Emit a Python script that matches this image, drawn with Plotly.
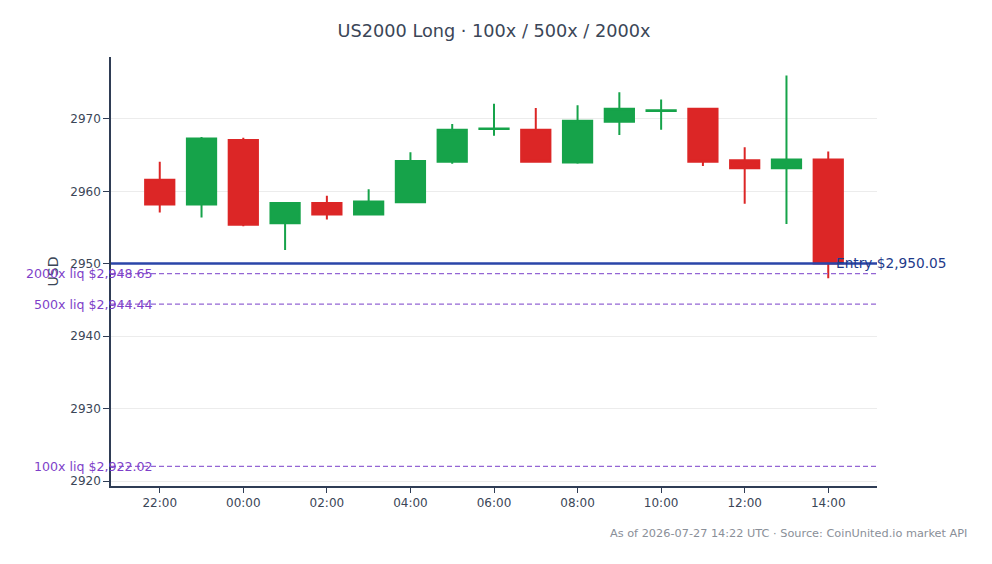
import plotly.graph_objects as go

times = ["2026-07-26 22:00", "2026-07-26 23:00", "2026-07-27 00:00", "2026-07-27 01:00",
         "2026-07-27 02:00", "2026-07-27 03:00", "2026-07-27 04:00", "2026-07-27 05:00",
         "2026-07-27 06:00", "2026-07-27 07:00", "2026-07-27 08:00", "2026-07-27 09:00",
         "2026-07-27 10:00", "2026-07-27 11:00", "2026-07-27 12:00", "2026-07-27 13:00",
         "2026-07-27 14:00"]
opens  = [2961.6, 2958.2, 2967.1, 2955.6, 2958.4, 2956.8, 2958.5, 2964.1, 2968.6,
          2968.5, 2964.0, 2969.6, 2971.1, 2971.4, 2964.3, 2963.2, 2964.4]
highs  = [2964.1, 2967.5, 2967.4, 2958.4, 2959.4, 2960.3, 2965.4, 2969.3, 2972.1,
          2971.5, 2971.9, 2973.7, 2972.7, 2971.4, 2966.1, 2976.0, 2965.5]
lows   = [2957.1, 2956.4, 2955.2, 2951.9, 2956.1, 2956.7, 2958.5, 2963.8, 2967.7,
          2964.0, 2963.8, 2967.8, 2968.5, 2963.5, 2958.3, 2955.5, 2948.0]
closes = [2958.2, 2967.3, 2955.4, 2958.4, 2956.8, 2958.6, 2964.2, 2968.5, 2968.7,
          2964.1, 2969.75, 2971.4, 2971.2, 2964.1, 2963.2, 2964.4, 2950.05]

entry_price = 2950.05
liq_labels = ["2000x", "500x", "100x"]
liq_prices = [2948.65, 2944.44, 2922.02]

title_text = "US2000 Long · 100x / 500x / 2000x"
footer_text = "As of 2026-07-27 14:22 UTC · Source: CoinUnited.io market API"

FONT = "DejaVu Sans, sans-serif"
GREEN = "#16a34a"
RED = "#dc2626"
AXIS = "#2f3d55"
PURPLE = "#7e3fc9"
BLUE = "#1e3a8a"
TEXT = "#3b4657"

fig = go.Figure()
fig.add_trace(go.Candlestick(
    x=times, open=opens, high=highs, low=lows, close=closes,
    increasing=dict(line=dict(color=GREEN, width=2), fillcolor=GREEN),
    decreasing=dict(line=dict(color=RED, width=2), fillcolor=RED),
    showlegend=False,
))

# Entry line
fig.add_shape(type="line", xref="paper", x0=0, x1=1, yref="y", y0=entry_price, y1=entry_price,
              line=dict(color="#2a45a8", width=2.5))
fig.add_annotation(xref="paper", x=0.944, yref="y", y=entry_price, xanchor="left", yanchor="middle",
                   text=f"Entry ${entry_price:,.2f}", showarrow=False,
                   font=dict(family=FONT, size=13.7, color=BLUE))

for lab, p in zip(liq_labels, liq_prices):
    fig.add_shape(type="line", xref="paper", x0=0, x1=1, yref="y", y0=p, y1=p,
                  line=dict(color="#9466d4", width=1.2, dash="5px,3px"))
    fig.add_annotation(xref="paper", x=0.057, yref="y", y=p, xanchor="right", yanchor="middle",
                       text=f"{lab} liq ${p:,.2f}", showarrow=False,
                       font=dict(family=FONT, size=12.6, color=PURPLE))

fig.add_annotation(xref="paper", yref="paper", x=1.1205, y=-0.11, xanchor="right", yanchor="middle",
                   text=footer_text, showarrow=False,
                   font=dict(family=FONT, size=11.3, color="#8a8f98"))

fig.update_layout(
    width=992, height=564,
    margin=dict(l=111, r=115, t=57, b=78),
    paper_bgcolor="white", plot_bgcolor="white",
    boxgap=0.3, boxgroupgap=0,
    title=dict(text=title_text, x=0.5, xref="paper", xanchor="center", y=0.945, yanchor="middle",
               font=dict(family=FONT, size=17.7, color=TEXT)),
    font=dict(family=FONT, size=12, color=TEXT),
    showlegend=False,
    xaxis=dict(
        type="date", range=["2026-07-26 20:50", "2026-07-27 15:10"],
        tickformat="%H:%M", dtick=7200000, tick0="2026-07-26 22:00",
        showgrid=False, showline=True, linecolor=AXIS, linewidth=1.5,
        ticks="outside", ticklen=5, tickcolor=AXIS,
        rangeslider=dict(visible=False), zeroline=False,
        tickfont=dict(family=FONT, size=12, color=TEXT),
    ),
    yaxis=dict(
        range=[2919.31, 2978.56], dtick=10, tick0=2920,
        showgrid=True, gridcolor="#ececec", gridwidth=1,
        showline=True, linecolor=AXIS, linewidth=1.5,
        ticks="outside", ticklen=6, tickcolor=AXIS, zeroline=False,
        title=dict(text="USD", font=dict(family=FONT, size=14, color=TEXT), standoff=8),
        tickfont=dict(family=FONT, size=12, color=TEXT),
    ),
)

fig.write_html("out.html")
